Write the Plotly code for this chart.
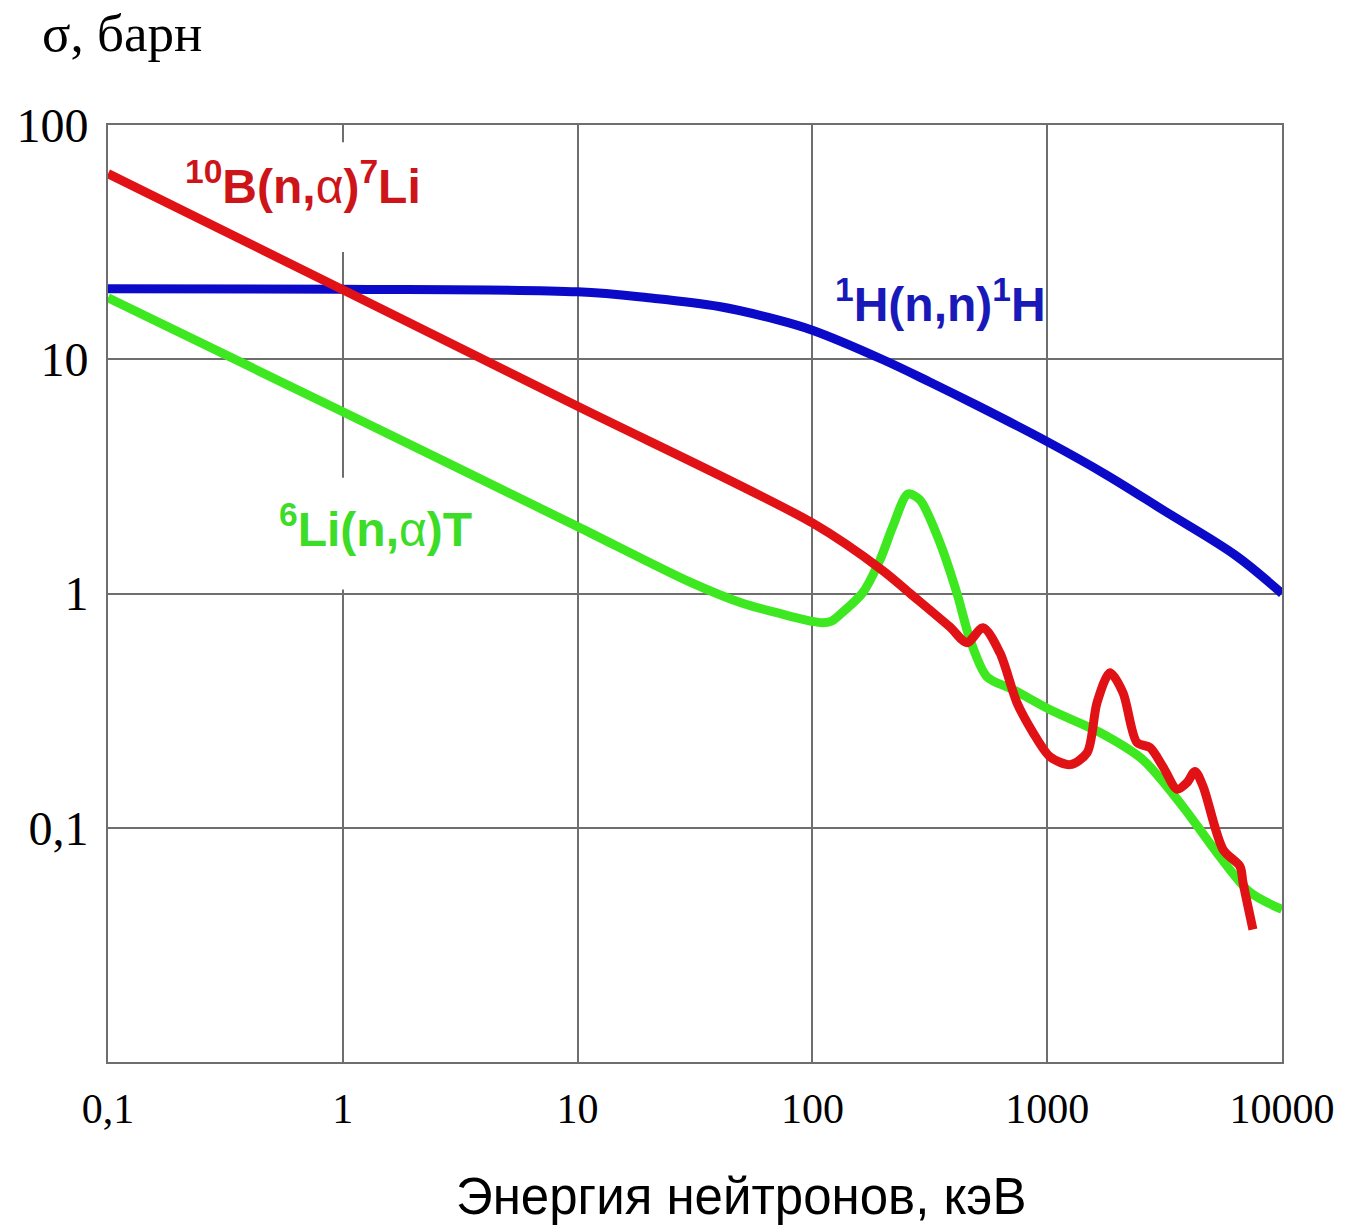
import plotly.graph_objects as go

# Neutron energy, keV, and cross sections, barn
h_energy = [0.1, 1, 10, 20, 40, 70, 100, 200, 316, 500, 1000, 1778, 3162, 6310, 10000]
h_sigma = [20, 19.9, 19.4, 18.3, 16.8, 14.8, 13.3, 9.95, 8.0, 6.37, 4.45, 3.22, 2.25, 1.46, 1.0]

b_energy = [0.1, 1, 10, 100, 200, 261, 385, 455, 533, 629, 743, 870, 1028, 1251, 1479,
            1630, 1851, 2103, 2412, 2740, 3114, 3571, 3940, 4260, 4613, 5610, 6627, 6822, 7520]
b_sigma = [62, 19.8, 6.3, 2.0, 1.25, 1.0, 0.72, 0.617, 0.714, 0.558, 0.342, 0.255, 0.201, 0.186, 0.209,
           0.342, 0.459, 0.377, 0.231, 0.220, 0.182, 0.146, 0.156, 0.174, 0.150, 0.0807, 0.0683, 0.0583, 0.0368]

li_energy = [0.1, 1, 10, 30, 50, 75, 100, 110, 120, 131, 164, 194, 220, 255, 287, 349, 413, 469,
             554, 715, 1028, 1679, 2559, 3786, 5280, 7305, 10000]
li_sigma = [18.3, 5.97, 1.93, 1.12, 0.91, 0.815, 0.76, 0.75, 0.76, 0.813, 1.01, 1.39, 1.93, 2.66, 2.51,
            1.65, 1.0, 0.636, 0.441, 0.389, 0.319, 0.255, 0.195, 0.123, 0.0783, 0.053, 0.0448]

x_ticks = [0.1, 1, 10, 100, 1000, 10000]
x_tick_text = ["0,1", "1", "10", "100", "1000", "10000"]
y_ticks = [0.1, 1, 10, 100]
y_tick_text = ["0,1", "1", "10", "100"]

RED = "rgb(225,18,22)"
BLUE = "rgb(10,10,200)"
GREEN = "rgb(62,232,32)"

fig = go.Figure()
fig.add_trace(go.Scatter(x=h_energy, y=h_sigma, mode="lines",
                         line=dict(color=BLUE, width=9, shape="spline", smoothing=1.0)))
fig.add_trace(go.Scatter(x=li_energy, y=li_sigma, mode="lines",
                         line=dict(color=GREEN, width=9, shape="spline", smoothing=0.8)))
fig.add_trace(go.Scatter(x=b_energy, y=b_sigma, mode="lines",
                         line=dict(color=RED, width=9, shape="spline", smoothing=0.8)))

grid_col = "#6e6e6e"
fig.update_xaxes(type="log", range=[-1, 4], tickvals=x_ticks, ticktext=x_tick_text,
                 showgrid=True, gridcolor=grid_col, gridwidth=2,
                 showline=True, mirror=True, linecolor=grid_col, linewidth=2,
                 ticks="", ticklabelstandoff=9, zeroline=False,
                 tickfont=dict(family="Liberation Serif", size=42, color="black"))
fig.update_yaxes(type="log", range=[-2, 2], tickvals=y_ticks, ticktext=y_tick_text,
                 showgrid=True, gridcolor=grid_col, gridwidth=2,
                 showline=True, mirror=True, linecolor=grid_col, linewidth=2,
                 ticks="", ticklabelstandoff=8, zeroline=False,
                 tickfont=dict(family="Liberation Serif", size=48, color="black"))

# white backing behind the reaction labels: over the grid, under the curves
for y0, y1 in [(28.7, 84.5), (1.04, 3.12)]:
    fig.add_shape(type="rect", xref="x", yref="y", x0=0.71, x1=2.52, y0=y0, y1=y1,
                  fillcolor="white", line=dict(width=0), layer="between")

label_font = dict(family="Liberation Sans", size=48)
alpha = '<span style="font-weight:normal">α</span>'
fig.add_annotation(x=0.1665, y=0.938, xref="paper", yref="paper", xanchor="center", yanchor="middle",
                   text=f"<b><sup>10</sup>B(n,{alpha})<sup>7</sup>Li</b>", showarrow=False,
                   font=dict(color="rgb(205,20,25)", **label_font))
fig.add_annotation(x=0.7095, y=0.812, xref="paper", yref="paper", xanchor="center", yanchor="middle",
                   text="<b><sup>1</sup>H(n,n)<sup>1</sup>H</b>", showarrow=False,
                   font=dict(color="rgb(25,25,185)", **label_font))
fig.add_annotation(x=0.2275, y=0.5725, xref="paper", yref="paper", xanchor="center", yanchor="middle",
                   text=f"<b><sup>6</sup>Li(n,{alpha})T</b>", showarrow=False,
                   font=dict(color="rgb(60,220,40)", **label_font))

fig.add_annotation(x=-0.058, y=1.098, xref="paper", yref="paper", xanchor="left", yanchor="middle",
                   text="σ, барн", showarrow=False,
                   font=dict(family="Liberation Serif", size=53, color="black"))
fig.add_annotation(x=0.539, y=-0.144, xref="paper", yref="paper", xanchor="center", yanchor="middle",
                   text="Энергия нейтронов, кэВ", showarrow=False,
                   font=dict(family="Liberation Sans", size=51, color="black"))

fig.update_layout(width=1347, height=1226, autosize=False,
                  margin=dict(l=108, r=65, t=125, b=164),
                  paper_bgcolor="white", plot_bgcolor="white", showlegend=False)

fig.write_html("out.html")
